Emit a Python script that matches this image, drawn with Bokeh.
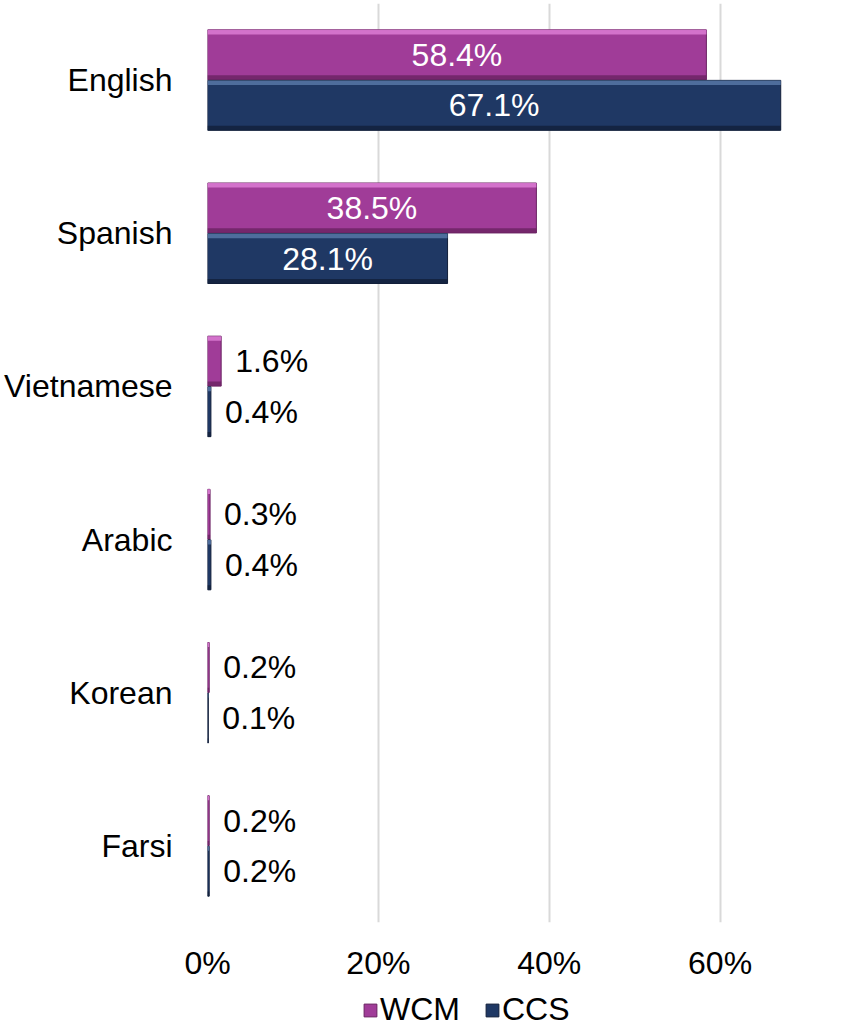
from bokeh.plotting import figure
from bokeh.layouts import column
from bokeh.models import (ColumnDataSource, FactorRange, FixedTicker,
                          Legend, LegendItem, Range1d)
from bokeh.transform import dodge
from bokeh.core.properties import value
from bokeh.embed import file_html
from bokeh.resources import INLINE

# ---- data ----
categories = ["English", "Spanish", "Vietnamese", "Arabic", "Korean", "Farsi"]
wcm = [58.4, 38.5, 1.6, 0.3, 0.2, 0.2]
ccs = [67.1, 28.1, 0.4, 0.4, 0.1, 0.2]
series_names = ["WCM", "CCS"]
x_ticks = [0, 20, 40, 60]

FONT = "Liberation Sans"
WCM_COLOR = "#A03C98"
WCM_LIGHT = "#D878D0"
WCM_DARK = "#6A2262"
CCS_COLOR = "#1F3864"
CCS_LIGHT = "#5373A2"
CCS_DARK = "#121F3A"

W = 848
p = figure(width=W, height=990, output_backend="svg", toolbar_location=None,
           y_range=FactorRange(factors=categories[::-1]),
           x_range=Range1d(0, 70),
           min_border_left=207, min_border_right=43, min_border_top=3,
           min_border_bottom=68)
p.outline_line_color = None
p.background_fill_color = "white"
p.border_fill_color = "white"

# axes
p.xaxis.ticker = FixedTicker(ticks=x_ticks)
p.xaxis.major_label_overrides = {t: f"{t}%" for t in x_ticks}
p.xaxis.axis_line_color = None
p.xaxis.major_tick_line_color = None
p.xaxis.minor_tick_line_color = None
p.xaxis.major_label_text_font = FONT
p.xaxis.major_label_text_font_size = "32px"
p.xaxis.major_label_text_color = "black"
p.xaxis.major_label_standoff = 16

p.yaxis.axis_line_color = None
p.yaxis.major_tick_line_color = None
p.yaxis.minor_tick_line_color = None
p.yaxis.major_label_text_font = FONT
p.yaxis.major_label_text_font_size = "32px"
p.yaxis.major_label_text_color = "black"
p.yaxis.major_label_standoff = 29

p.ygrid.grid_line_color = None
p.xgrid.grid_line_color = "#D9D9D9"
p.xgrid.grid_line_width = 2

src = ColumnDataSource(dict(cat=categories, wcm=wcm, ccs=ccs))

H = 0.326
OFF = 0.165
EDGE = 0.03

styles = [("wcm", OFF, WCM_COLOR, WCM_LIGHT, WCM_DARK),
          ("ccs", -OFF, CCS_COLOR, CCS_LIGHT, CCS_DARK)]
for col, off, body, light, dark in styles:
    p.hbar(y=dodge("cat", off, range=p.y_range), left=0, right=col, height=H,
           source=src, fill_color=body, line_color=dark, line_width=1)
    # top bevel highlight
    p.hbar(y=dodge("cat", off + H / 2 - EDGE / 2, range=p.y_range), left=0, right=col,
           height=EDGE, source=src, fill_color=light, line_color=None, fill_alpha=0.9)
    # bottom bevel shade
    p.hbar(y=dodge("cat", off - H / 2 + EDGE / 2, range=p.y_range), left=0, right=col,
           height=EDGE, source=src, fill_color=dark, line_color=None, fill_alpha=0.8)

# data labels
for vals, off in [(wcm, OFF), (ccs, -OFF)]:
    inside_idx = [i for i, v in enumerate(vals) if v > 10]
    outside_idx = [i for i, v in enumerate(vals) if v <= 10]
    s_in = ColumnDataSource(dict(cat=[categories[i] for i in inside_idx],
                                 x=[vals[i] / 2 for i in inside_idx],
                                 t=[f"{vals[i]:.1f}%" for i in inside_idx]))
    s_out = ColumnDataSource(dict(cat=[categories[i] for i in outside_idx],
                                  x=[vals[i] for i in outside_idx],
                                  t=[f"{vals[i]:.1f}%" for i in outside_idx]))
    p.text(x="x", y=dodge("cat", off, range=p.y_range), text="t", source=s_in,
           text_font=value(FONT), text_font_size="32px", text_color="white",
           text_align="center", text_baseline="middle")
    p.text(x="x", y=dodge("cat", off, range=p.y_range), text="t", source=s_out,
           text_font=value(FONT), text_font_size="32px", text_color="black",
           text_align="left", text_baseline="middle", x_offset=14)

# ---- legend strip below the chart (its frame is aligned with the chart's frame) ----
lg = figure(width=W, height=38, output_backend="svg", toolbar_location=None,
            x_range=Range1d(0, 1), y_range=Range1d(0, 1),
            min_border_left=0, min_border_right=0, min_border_top=0, min_border_bottom=0)
lg.axis.visible = False
lg.grid.grid_line_color = None
lg.outline_line_color = None
nan = float("nan")
proxy = ColumnDataSource(dict(y=[nan], l=[nan], r=[nan]))  # legend proxies, nothing drawn
leg_renderers = []
for col, off, body, light, dark in styles:
    leg_renderers.append(lg.hbar(y="y", left="l", right="r", height=0.1, source=proxy,
                                 fill_color=body, line_color=dark, line_width=1))
legend = Legend(items=[LegendItem(label=series_names[0], renderers=[leg_renderers[0]]),
                       LegendItem(label=series_names[1], renderers=[leg_renderers[1]])],
                orientation="horizontal", location=(155, 0),
                label_text_font=FONT, label_text_font_size="32px", label_text_color="black",
                glyph_width=16, glyph_height=16, label_standoff=2, spacing=24,
                padding=0, margin=0, border_line_color=None, background_fill_alpha=0)
lg.add_layout(legend, "center")

open("out.html", "w").write(file_html(column(p, lg, spacing=0), INLINE))
